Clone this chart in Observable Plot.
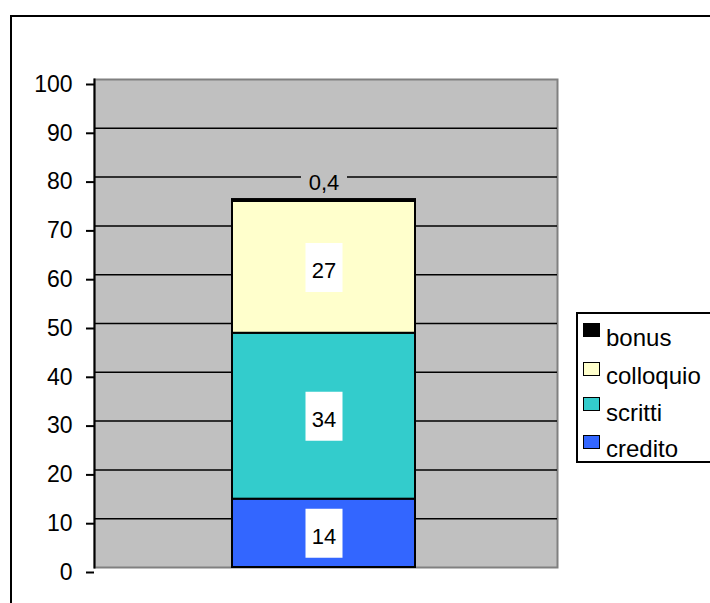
<!DOCTYPE html>
<html>
<head>
<meta charset="utf-8">
<script src="https://cdn.jsdelivr.net/npm/d3@7"></script>
<script src="https://cdn.jsdelivr.net/npm/@observablehq/plot@0.6"></script>
<style>
  html, body { margin: 0; padding: 0; background: white; overflow: hidden; width: 710px; height: 603px; }
  #wrap { position: relative; width: 710px; height: 603px; font-family: "Liberation Sans", Arial, sans-serif; }
  #chart { position: absolute; left: 0; top: 0; }
  #border { position: absolute; left: 10px; top: 15px; width: 800px; height: 700px;
            border-top: 2px solid black; border-left: 2px solid black; pointer-events: none; box-sizing: border-box; }
  #legend { position: absolute; left: 576px; top: 312px; width: 150px; height: 151px;
            border: 2px solid black; background: white; box-sizing: border-box; }
  .sw { position: absolute; width: 17px; height: 14px; border: 1.5px solid black; box-sizing: border-box; }
  .lt { position: absolute; font-size: 24px; line-height: 24px; color: black; white-space: nowrap; }
</style>
</head>
<body>
<div id="wrap">
  <div id="chart"></div>
  <div id="legend"></div>
  <div id="border"></div>
</div>
<script>
// ---- data ----
const categories = ["1"];
const series = ["credito", "scritti", "colloquio", "bonus"];
const values = [14, 34, 27, 0.4];
const colors = ["#3366FF", "#33CCCC", "#FFFFCC", "#000000"];
const yTicks = [0, 10, 20, 30, 40, 50, 60, 70, 80, 90, 100];
const legendOrder = ["bonus", "colloquio", "scritti", "credito"];

const data = series.map((s, i) => ({ cat: categories[0], series: s, value: values[i] }));

// label positions from stacking
let acc = 0;
const labels = data.map(d => {
  const lo = acc; acc += d.value;
  return { cat: d.cat, series: d.series, value: d.value, mid: (lo + acc) / 2, top: acc };
});
const mainLabels = labels.filter(d => d.value >= 1);
const smallLabels = labels.filter(d => d.value < 1);
const fmt = v => String(v).replace(".", ",");

const boxSymbol = { draw(ctx) { ctx.rect(-18.5, -24.5, 37, 49); } };
const smallBox = { draw(ctx) { ctx.rect(-23, -15, 46, 30); } };

const chart = Plot.plot({
  width: 710,
  height: 603,
  marginLeft: 94,
  marginRight: 153,
  marginTop: 79,
  marginBottom: 36,
  x: { type: "band", domain: categories, padding: 0.432, align: 0.495, axis: null },
  y: { domain: [0, 100], axis: null },
  color: { domain: series, range: colors },
  style: { fontFamily: "'Liberation Sans', Arial, sans-serif", background: "white", color: "black" },
  marks: [
    Plot.frame({ fill: "#C0C0C0", stroke: "#808080", strokeWidth: 2 }),
    Plot.ruleY(yTicks.filter(t => t > 0 && t < 100), { stroke: "black", strokeWidth: 1.5 }),
    Plot.frame({ anchor: "left", stroke: "black", strokeWidth: 2 }),
    Plot.axisY({ ticks: yTicks, tickSize: 8, tickPadding: 14, fontSize: 23, dy: 5, strokeWidth: 2, tickFormat: d => String(d) }),
    Plot.barY(data, { x: "cat", y: "value", fill: "series", stroke: "black", strokeWidth: 2 }),
    Plot.dot(mainLabels, { x: "cat", y: "mid", symbol: boxSymbol, fill: "white", stroke: "none" }),
    Plot.text(mainLabels, { x: "cat", y: "mid", text: d => fmt(d.value), fontSize: 22, dy: 4, fill: "black" }),
    Plot.dot(smallLabels, { x: "cat", y: "top", symbol: smallBox, fill: "#C0C0C0", stroke: "none", dy: -18 }),
    Plot.text(smallLabels, { x: "cat", y: "top", text: d => fmt(d.value), fontSize: 22, dy: -17, fill: "black" })
  ]
});
document.getElementById("chart").appendChild(chart);

// legend
const legend = document.getElementById("legend");
const swTops = [323, 362, 397, 435];
const txtTops = [326, 364, 401, 437];
legendOrder.forEach((s, i) => {
  const sw = document.createElement("div");
  sw.className = "sw";
  sw.style.left = (583 - 576 - 2) + "px";
  sw.style.top = (swTops[i] - 312 - 2) + "px";
  sw.style.background = colors[series.indexOf(s)];
  legend.appendChild(sw);
  const t = document.createElement("div");
  t.className = "lt";
  t.style.left = (606 - 576 - 2) + "px";
  t.style.top = (txtTops[i] - 312 - 2) + "px";
  t.textContent = s;
  legend.appendChild(t);
});
</script>
</body>
</html>
